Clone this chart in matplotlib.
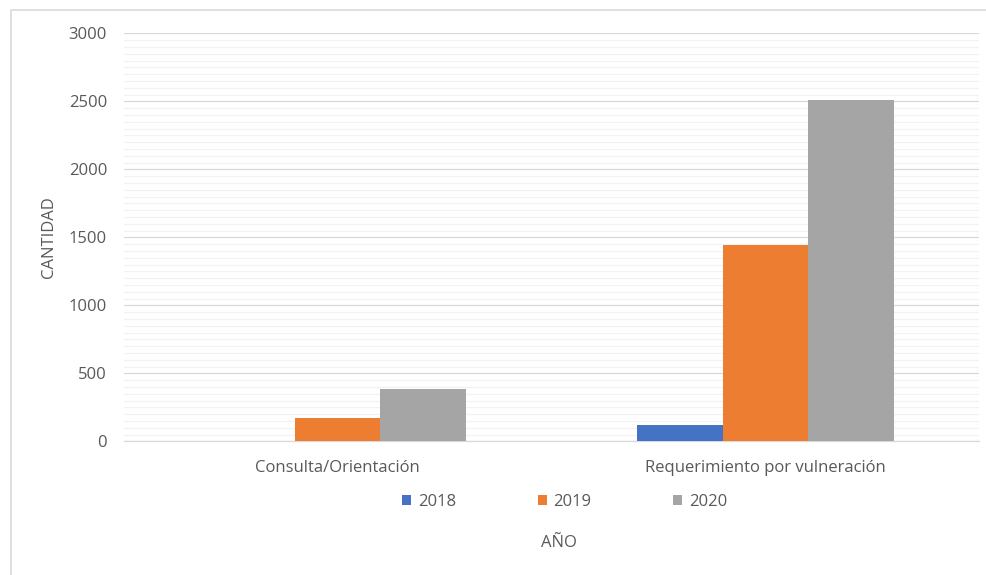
import matplotlib.pyplot as plt
import numpy as np
from matplotlib.patches import Patch, Rectangle
from matplotlib.ticker import MultipleLocator

########### DATA ##############

categories = ["Consulta/Orientación", "Requerimiento por vulneración"]
years = ["2018", "2019", "2020"]
v2018 = [0, 120]
v2019 = [172, 1441]
v2020 = [387, 2507]
colors = ["#4472C4", "#ED7D31", "#A5A5A5"]

plt.rcParams['font.family'] = ['Open Sans', 'DejaVu Sans']
txt = "#595959"
fs = 12

fig = plt.figure(figsize=(9.87, 5.75), dpi=100)
ax = fig.add_axes([0.1254, 0.2322, 0.8669, 0.7099])

x = np.arange(len(categories))
w = 0.2
for i, (vals, c) in enumerate(zip([v2018, v2019, v2020], colors)):
    ax.bar(x + (i - 1) * w, vals, width=w, color=c, linewidth=0, zorder=3)

ax.set_xlim(-0.5, 1.5)
ax.set_ylim(0, 3000)
ax.yaxis.set_major_locator(MultipleLocator(500))
ax.yaxis.set_minor_locator(MultipleLocator(50))
ax.grid(which="major", axis="y", color="#d9d9d9", linewidth=0.9, zorder=1)
ax.grid(which="minor", axis="y", color="#f2f2f2", linewidth=0.9, zorder=0)
for s in ["top", "right", "left"]:
    ax.spines[s].set_visible(False)
ax.spines["bottom"].set_color("#d9d9d9")
ax.spines["bottom"].set_linewidth(0.9)

ax.set_xticks(x)
ax.set_xticklabels(categories)
ax.tick_params(axis="both", which="both", length=0, labelsize=fs, labelcolor=txt)
ax.tick_params(axis="x", pad=13)
ax.tick_params(axis="y", pad=12)

ax.set_ylabel("CANTIDAD", fontsize=fs, color=txt, va="center")
ax.yaxis.set_label_coords(-0.0874, 0.5)
ax.set_xlabel("AÑO", fontsize=fs, color=txt, va="center")
ax.xaxis.set_label_coords(0.5086, -0.248)

handles = [Patch(facecolor=c) for c in colors]
fig.legend(handles, years, loc="center", bbox_to_anchor=(564.5 / 987, 1 - 502 / 575),
           ncol=3, frameon=False, fontsize=fs, labelcolor=txt,
           handlelength=0.55, handleheight=0.55, handletextpad=0.4,
           columnspacing=4.9)

# chart area border (only left/top visible in crop)
fig.patches.append(Rectangle((11 / 987, -0.1), 1.2, 1.1 - 10 / 575,
                             transform=fig.transFigure, fill=False,
                             edgecolor="#d9d9d9", linewidth=1.2))

plt.savefig("out.png", dpi=100)
